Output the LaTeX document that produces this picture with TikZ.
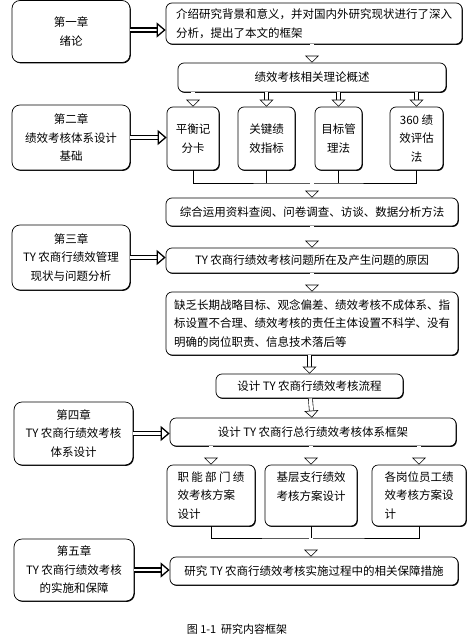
\documentclass[tikz,border=0pt]{standalone}
\usepackage{fontspec}
\setmainfont{Noto Sans CJK SC}
\usetikzlibrary{arrows.meta, shadows}

\begin{document}
\begin{tikzpicture}[x=1pt, y=-1pt,
        base/.style={draw, align=center, rounded corners=6pt, line width=0.7pt, fill=white, inner sep=3pt, font=\fontsize{11.5}{18.5}\selectfont, drop shadow={shadow xshift=0.8pt, shadow yshift=-0.9pt, opacity=1, fill=black}},
        chapter/.style={base, rounded corners=8pt, minimum width=118pt, minimum height=62pt},
        process/.style={base, align=left, minimum height=28pt},
        method/.style={base, minimum height=63pt},
        plan/.style={base, align=left, minimum height=61pt},
        arrow/.style={double, double distance=3.5pt, line width=0.6pt, -{Triangle[open, fill=white, length=7pt, width=14pt]}},
        sidearrow/.style={double, double distance=2.5pt, line width=1.3pt, -{Triangle[open, fill=white, length=9pt, width=15pt]}},
        link/.style={line width=1pt}
    ]
    \useasboundingbox (0,0) rectangle (470,640);

    % chapters
    \node (ch1) at (71,31.5) [chapter] {第一章\\绪论};
    \node (ch2) at (71,137.5) [chapter, minimum height=65pt] {第二章\\绩效考核体系设计\\基础};
    \node (ch3) at (71,257.5) [chapter, minimum height=65pt] {第三章\\TY 农商行绩效管理\\现状与问题分析};
    \node (ch4) at (73.5,433.5) [chapter, minimum width=119pt, minimum height=63pt] {第四章\\TY 农商行绩效考核\\体系设计};
    \node (ch5) at (74,570) [chapter, minimum width=120pt, minimum height=62pt] {第五章\\TY 农商行绩效考核\\的实施和保障};

    % chapter 1 and 2
    \node (intro) at (314,23.5) [process, minimum width=296pt, minimum height=41pt] {介绍研究背景和意义，并对国内外研究现状进行了深入\\分析，提出了本文的框架};
    \node (theory) at (312,77.5) [base, minimum width=268pt, minimum height=29pt] {绩效考核相关理论概述};
    \node (bsc) at (193,138.5) [method, minimum width=52pt] {平衡记\\分卡};
    \node (kpi) at (266.5,138.5) [method, minimum width=57pt] {关键绩\\效指标};
    \node (mbo) at (338.5,138.5) [method, minimum width=47pt] {目标管\\理法};
    \node (deg) at (416.5,138.5) [method, minimum width=53pt] {360 绩\\效评估\\法};
    \coordinate (join1) at (312,183);

    % chapter 3
    \node (methods) at (312,212) [process, minimum width=292pt] {综合运用资料查阅、问卷调查、访谈、数据分析方法};
    \node (problem) at (312,260.5) [base, minimum width=292pt, minimum height=25pt] {TY 农商行绩效考核问题所在及产生问题的原因};
    \node (causes) at (312,323.5) [process, minimum width=292pt, minimum height=63pt] {缺乏长期战略目标、观念偏差、绩效考核不成体系、指\\标设置不合理、绩效考核的责任主体设置不科学、没有\\明确的岗位职责、信息技术落后等};

    % chapter 4
    \node (flow) at (309.5,386) [base, minimum width=187pt, minimum height=24pt] {设计 TY 农商行绩效考核流程};
    \node (frame) at (313,432) [base, minimum width=286pt, minimum height=28pt] {设计 TY 农商行总行绩效考核体系框架};
    \node (dept) at (211,495.5) [plan, minimum width=88pt] {\addfontfeature{LetterSpace=20}职能部门绩\\效考核方案\\设计};
    \node (branch) at (311,495.5) [plan, minimum width=92pt] {基层支行绩效\\考核方案设计\\\mbox{}};
    \node (staff) at (419,495.5) [plan, minimum width=94pt] {各岗位员工绩\\效考核方案设\\计};
    \coordinate (join2) at (311,538);

    % chapter 5
    \node (measures) at (314,571) [process, minimum width=288pt] {研究 TY 农商行绩效考核实施过程中的相关保障措施};

    \node (caption) at (237,629) [font=\fontsize{11}{13}\selectfont] {图 1-1\ \ 研究内容框架};

    % chapter links
    \draw [sidearrow] (ch1.east |- 0,30) -- (intro.west |- 0,30);
    \draw [sidearrow] (ch2.east) -- (bsc.west |- ch2.east);
    \draw [sidearrow] (ch3.east) -- (problem.west |- ch3.east);
    \draw [sidearrow] (ch4.east) -- (frame.west |- ch4.east);
    \draw [sidearrow] (ch5.east) -- (measures.west |- ch5.east);

    % flow
    \draw [arrow] (theory.north |- intro.south) -- (theory.north);
    \draw [arrow] (theory.south -| bsc) -- (bsc.north);
    \draw [arrow] (theory.south -| kpi) -- (kpi.north);
    \draw [arrow] (theory.south -| mbo) -- (mbo.north);
    \draw [arrow] (theory.south -| deg) -- (deg.north);
    \draw [link] (bsc.south) |- (join1) -| (deg.south);
    \draw [link] (kpi.south) -- (kpi.south |- join1);
    \draw [link] (mbo.south) -- (mbo.south |- join1);
    \draw [arrow] (join1) -- (methods.north);
    \draw [arrow] (methods) -- (problem);
    \draw [arrow] (problem) -- (causes);
    \draw [arrow] (causes.south -| flow) -- (flow.north);
    \draw [arrow] (flow) -- (frame);
    \draw [arrow] (frame.south -| dept) -- (dept.north);
    \draw [arrow] (frame.south -| branch) -- (branch.north);
    \draw [arrow] (frame.south -| staff) -- (staff.north);
    \draw [link] (dept.south) |- (join2) -| (staff.south);
    \draw [link] (branch.south) -- (join2);
    \draw [arrow] (join2) -- (measures.north -| join2);

\end{tikzpicture}
\end{document}
